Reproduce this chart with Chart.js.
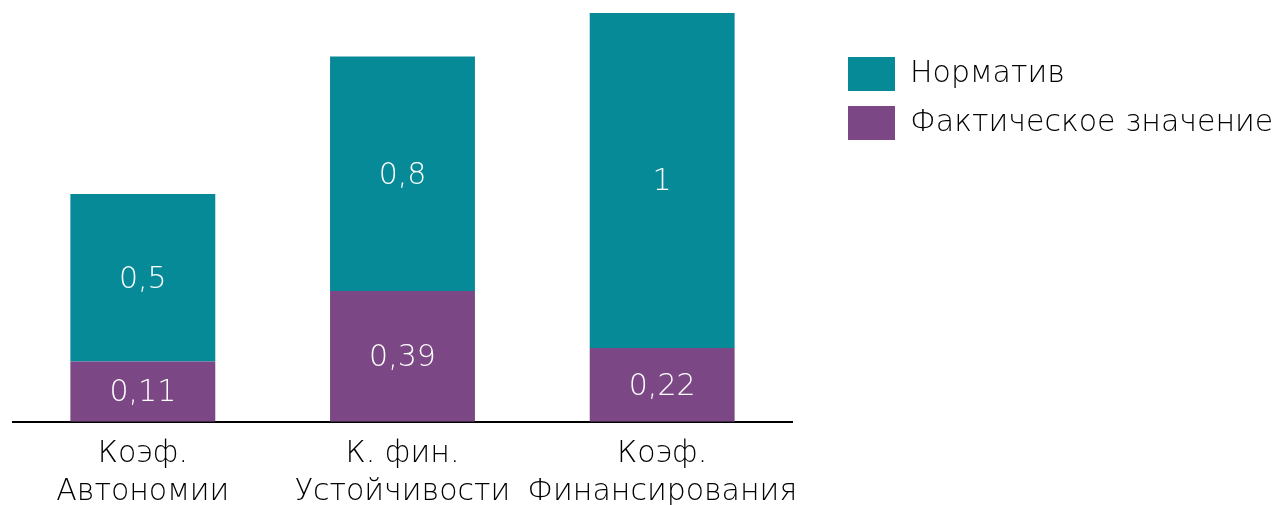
<!DOCTYPE html>
<html lang="ru">
<head>
    <meta charset="UTF-8" />
    <title>Коэффициенты</title>
    <script src="https://cdn.jsdelivr.net/npm/chart.js"></script>
    <style>
        html, body { margin: 0; padding: 0; background: #fff; }
        .grafico { position: relative; width: 1276px; height: 505px; }
    </style>
</head>
<body>
    <div class="grafico">
        <canvas id="myChart"></canvas>
    </div>

<script>
    // categories (two-line labels under the axis)
    const categories = [['Коэф.', 'Автономии'], ['К. фин.', 'Устойчивости'], ['Коэф.', 'Финансирования']];

    // bar heights
    const factValues = [0.18, 0.39, 0.22];
    const normValues = [0.50, 0.70, 1.00];

    // text written inside the bars
    const factLabels = ['0,11', '0,39', '0,22'];
    const normLabels = ['0,5', '0,8', '1'];

    const seriesNames = ['Фактическое значение', 'Норматив'];

    const FONT = "'DejaVu Sans', sans-serif";

    // puts the legend in its own column to the right of the plot
    const legendColumn = {
        id: 'legendColumn',
        beforeInit(chart) {
            const fitOrig = chart.legend.fit;
            chart.legend.fit = function () {
                fitOrig.call(this);
                this.width = 484;
            };
        },
        afterLayout(chart) {
            chart.legend.left += 41;
            chart.legend.right += 41;
        }
    };

    // white value labels in the middle of each segment
    const segmentLabels = {
        id: 'segmentLabels',
        afterDatasetsDraw(chart) {
            const ctx = chart.ctx;
            ctx.save();
            ctx.font = '300 30px ' + FONT;
            ctx.fillStyle = '#ffffff';
            ctx.textAlign = 'center';
            ctx.textBaseline = 'middle';
            chart.data.datasets.forEach(function (ds, i) {
                const meta = chart.getDatasetMeta(i);
                meta.data.forEach(function (bar, j) {
                    const p = bar.getProps(['x', 'y', 'base'], true);
                    ctx.fillText(ds.valueText[j], p.x, (p.y + p.base) / 2 + 2);
                });
            });
            ctx.restore();
        }
    };

    const dados = {
        labels: categories,
        datasets: [{
            label: seriesNames[0],
            data: factValues,
            valueText: factLabels,
            backgroundColor: '#7b4784',
            borderWidth: 0
        }, {
            label: seriesNames[1],
            data: normValues,
            valueText: normLabels,
            backgroundColor: '#068a97',
            borderWidth: 0
        }]
    };

    const config = {
        type: 'bar',
        data: dados,
        options: {
            responsive: false,
            animation: false,
            layout: { padding: { left: 13, top: 13, right: 0, bottom: -19 } },
            datasets: {
                bar: { barPercentage: 0.558, categoryPercentage: 1 }
            },
            scales: {
                x: {
                    stacked: true,
                    grid: { display: false, drawTicks: false },
                    border: { display: true, color: '#000000', width: 2 },
                    ticks: {
                        color: '#000000',
                        padding: 13,
                        autoSkip: false,
                        maxRotation: 0,
                        minRotation: 0,
                        font: { family: FONT, size: 30, weight: 300, lineHeight: 1.27 }
                    }
                },
                y: {
                    stacked: true,
                    display: false,
                    min: 0,
                    max: 1.22
                }
            },
            plugins: {
                tooltip: { enabled: false },
                legend: {
                    position: 'right',
                    align: 'start',
                    reverse: true,
                    title: { display: true, text: ' ', font: { size: 10 }, padding: { top: 0, bottom: 17 } },
                    labels: {
                        boxWidth: 47,
                        boxHeight: 34,
                        padding: 15,
                        color: '#000000',
                        font: { family: FONT, size: 30, weight: 300 }
                    }
                }
            }
        },
        plugins: [legendColumn, segmentLabels]
    };

    const canvas = document.getElementById('myChart');
    canvas.width = 1276;
    canvas.height = 505;
    let myChart = new Chart(canvas, config);
</script>
</body>
</html>
